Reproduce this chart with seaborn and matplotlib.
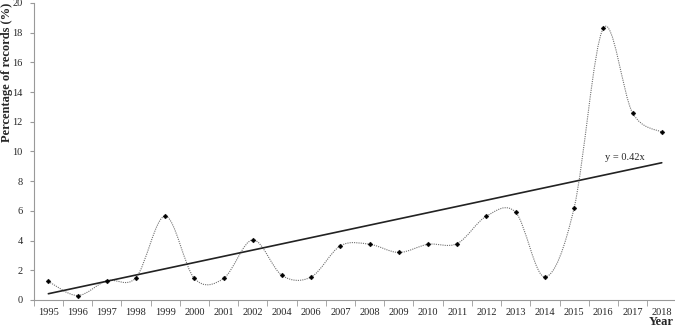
import matplotlib
matplotlib.use("Agg")
from matplotlib import pyplot as plt
from matplotlib.path import Path
from matplotlib.patches import PathPatch
from matplotlib.ticker import FixedLocator
import pandas as pd
import seaborn as sns
import numpy as np

# data
years = ["1995", "1996", "1997", "1998", "1999", "2000", "2001", "2002",
         "2004", "2006", "2007", "2008", "2009", "2010", "2011", "2012",
         "2013", "2014", "2015", "2016", "2017", "2018"]
percent = [1.25, 0.3, 1.3, 1.5, 5.65, 1.45, 1.45, 4.05,
           1.65, 1.55, 3.65, 3.75, 3.2, 3.75, 3.8, 5.65,
           5.9, 1.55, 6.2, 18.3, 12.6, 11.3]
slope = 0.42
trend_label = "y = 0.42x"

df = pd.DataFrame({"year": years, "pct": percent})
df["pos"] = np.arange(len(df))
df["trend"] = slope * (df["pos"] + 1)

sns.set_style("white")
plt.rcParams["font.family"] = ["Liberation Serif", "DejaVu Serif"]

fig = plt.figure(figsize=(6.75, 3.3), dpi=100)
ax = fig.add_axes([0.050, 0.091, 0.952, 0.900])

# smoothed dotted line (Excel-like smooth curve through the points)
x = df["pos"].values.astype(float)
y = df["pct"].values
verts = [(x[0], y[0])]
codes = [Path.MOVETO]
n = len(x)
for i in range(n - 1):
    p0 = np.array([x[max(i - 1, 0)], y[max(i - 1, 0)]])
    p1 = np.array([x[i], y[i]])
    p2 = np.array([x[i + 1], y[i + 1]])
    p3 = np.array([x[min(i + 2, n - 1)], y[min(i + 2, n - 1)]])
    c1 = p1 + (p2 - p0) / 6.0
    c2 = p2 - (p3 - p1) / 6.0
    verts += [tuple(c1), tuple(c2), tuple(p2)]
    codes += [Path.CURVE4] * 3
ax.add_patch(PathPatch(Path(verts, codes), facecolor="none",
                       edgecolor="#707070", lw=0.8, ls=(0, (1, 1))))

# markers
sns.scatterplot(data=df, x="pos", y="pct", ax=ax, marker="D", s=6,
                color="black", edgecolor="black", linewidth=0.3, zorder=3)

# linear trend
sns.lineplot(data=df, x="pos", y="trend", ax=ax, color="#222222", lw=1.2)
ax.text(19.75, 9.3, trend_label, fontsize=7.5, ha="center", va="bottom")

ax.set_xlim(-0.5, 21.5)
ax.set_ylim(0, 20)
ax.set_yticks(range(0, 21, 2))
ax.set_yticklabels([str(v) for v in range(0, 21, 2)], fontsize=7.5)
ax.set_xticks(df["pos"])
ax.set_xticklabels(years, fontsize=7.5)
ax.xaxis.set_minor_locator(FixedLocator(np.arange(-0.5, 22, 1)))
ax.tick_params(axis="x", which="major", length=0, pad=6)
ax.tick_params(axis="x", which="minor", length=4, color="#999999",
               direction="out", bottom=True)
ax.tick_params(axis="y", length=3, color="#999999", direction="out",
               left=True, pad=5)

ax.set_xlabel("")
ax.set_ylabel("Percentage of records (%)", fontsize=9, fontweight="bold")
ax.yaxis.set_label_coords(-0.032, 0.765)
fig.text(0.998, 0.005, "Year", fontsize=9, fontweight="bold",
         ha="right", va="bottom")

sns.despine(ax=ax)
for side in ["left", "bottom"]:
    ax.spines[side].set_color("#999999")
    ax.spines[side].set_linewidth(0.8)

plt.savefig("out.png", dpi=100)
